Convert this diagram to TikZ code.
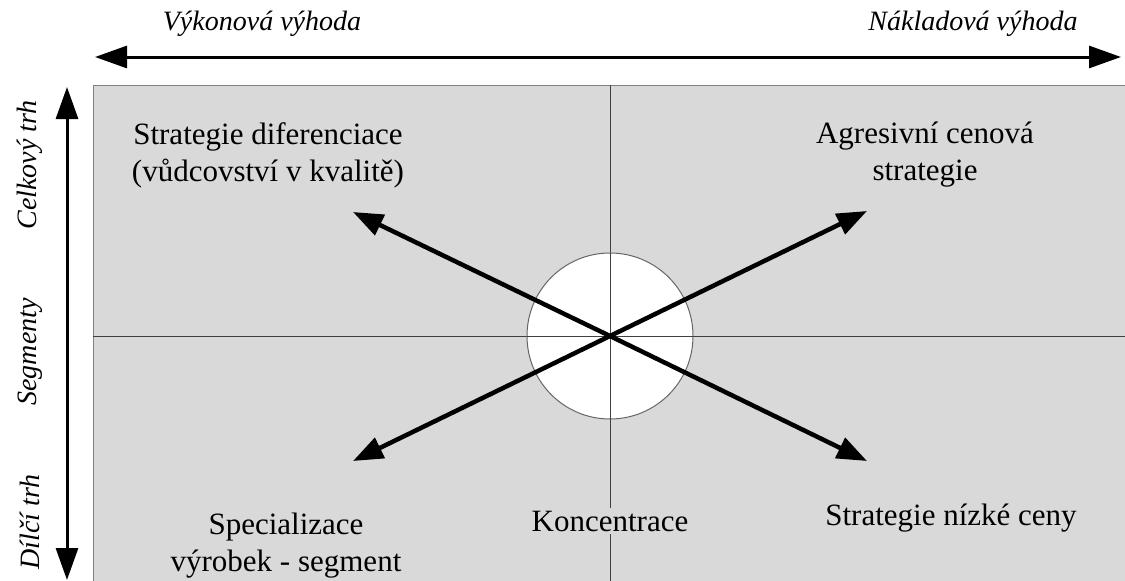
\documentclass[tikz,border=0pt]{standalone}
\usepackage{fontspec}
\setmainfont{Liberation Serif}
\usetikzlibrary{arrows.meta, positioning}

\definecolor{panelgray}{HTML}{D9D9D9}

\begin{document}
\begin{tikzpicture}[
    x=1pt, y=-1pt,
    txt/.style={font=\fontsize{31}{37}\selectfont, align=center, inner sep=0pt},
    axistxt/.style={font=\fontsize{28}{34}\selectfont\itshape, inner sep=0pt},
    axis/.style={{Triangle[length=32pt, width=22pt]}-{Triangle[length=32pt, width=22pt]}, line width=3pt},
    move/.style={-{Triangle[length=30pt, width=22pt]}, line width=4.5pt},
    divider/.style={draw=black!75, line width=1pt},
]
\useasboundingbox (0,0) rectangle (1125,581);

% Plocha matice
\fill[panelgray, draw=black!50, line width=1pt] (93,85) rectangle (1130,590);
\coordinate (c) at (610,336);
\draw[divider] (93,336) -- (1125,336);
\draw[divider] (610,85) -- (610,581);
\node[circle, draw=black!60, fill=white, line width=1pt, minimum size=166pt, inner sep=0pt] (core) at (c) {};
\draw[divider] (core.west) -- (core.east);
\draw[divider] (core.north) -- (core.south);

% Osy
\coordinate (ax_l) at (95,57);
\coordinate (ax_r) at (1121,57);
\coordinate (ax_t) at (67,87);
\coordinate (ax_b) at (67,580);
\draw[axis] (ax_l) -- (ax_r);
\draw[axis] (ax_t) -- (ax_b);

\node[axistxt] (perf) at (262,24) {Výkonová výhoda};
\node[axistxt] (cost) at (973,24) {Nákladová výhoda};
\node[axistxt, rotate=90] (whole) at (30,165) {Celkový trh};
\node[axistxt, rotate=90] (segm) at (30,352) {Segmenty};
\node[axistxt, rotate=90] (part) at (30,522) {Dílčí trh};

% Strategie
\coordinate (tip_ul) at (353,212);
\coordinate (tip_ur) at (867,211);
\coordinate (tip_ll) at (353,461);
\coordinate (tip_lr) at (867,461);
\draw[move] (c) -- (tip_ul);
\draw[move] (c) -- (tip_ur);
\draw[move] (c) -- (tip_ll);
\draw[move] (c) -- (tip_lr);

\node[txt] (diff) at (268,155) {Strategie diferenciace\\(vůdcovství v kvalitě)};
\node[txt] (aggr) at (925,155) {Agresivní cenová\\strategie};
\node[txt] (spec) at (286,546) {Specializace\\výrobek - segment};
\node[txt, fill=panelgray, inner sep=3pt] (conc) at (610,521) {Koncentrace};
\node[txt] (low) at (951,518) {Strategie nízké ceny};

\end{tikzpicture}
\end{document}
